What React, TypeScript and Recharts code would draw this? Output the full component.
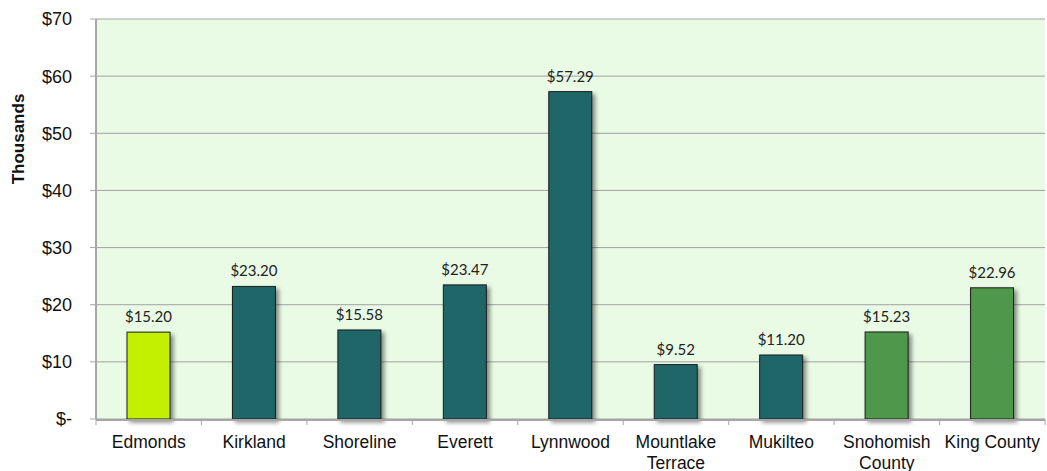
import React from 'react';
import { BarChart, Bar, XAxis, YAxis, CartesianGrid, Cell, LabelList, Label } from 'recharts';

const categories = ['Edmonds', 'Kirkland', 'Shoreline', 'Everett', 'Lynnwood', 'Mountlake\nTerrace', 'Mukilteo', 'Snohomish\nCounty', 'King County'];
const values = [15.2, 23.2, 15.58, 23.47, 57.29, 9.52, 11.2, 15.23, 22.96];
const colors = ['#C2F000', '#1E6667', '#1E6667', '#1E6667', '#1E6667', '#1E6667', '#1E6667', '#4F974A', '#4F974A'];
const yTicks = [0, 10, 20, 30, 40, 50, 60, 70];
const boundaryTicks = [0, 1, 2, 3, 4, 5, 6, 7, 8, 9];

const data = categories.map((c, i) => ({ name: c, value: values[i], idx: i + 0.5 }));

const CatTick = (props: any) => {
  const { x, y, payload } = props;
  const lines = String(payload.value).split('\n');
  return (
    <text x={x} y={y} textAnchor="middle" fill="#111" fontFamily="'Liberation Sans', Arial, sans-serif" fontSize={17.5}>
      {lines.map((l, i) => (
        <tspan key={i} x={x} dy={i === 0 ? 13 : 21}>{l}</tspan>
      ))}
    </text>
  );
};

const ShadowBar = (props: any) => {
  const { x, y, width, height, fill } = props;
  return (
    <rect x={x} y={y} width={width} height={height} fill={fill} stroke="#1b1b1b" strokeWidth={1}
      style={{ filter: 'drop-shadow(3px 3px 2px rgba(0,0,0,0.45))' }} />
  );
};

export default function App() {
  return (
    <div style={{ position: 'absolute', left: 0, top: 0, width: 1047, height: 471 }}>
      <BarChart width={1047} height={471} data={data} margin={{ top: 19, right: 2, bottom: 0, left: 0 }} barCategoryGap={0}>
        <CartesianGrid vertical={false} stroke="#A3A3A3" strokeWidth={1} fill="#E9FAE5" />
        <XAxis xAxisId="bnd" type="number" dataKey="idx" domain={[0, 9]} ticks={boundaryTicks} tick={() => <g />} tickLine={{ stroke: '#A6A6A6', strokeWidth: 1 }} axisLine={false} tickSize={6} height={1} />
        <XAxis dataKey="name" xAxisId="cat" tick={<CatTick />} tickLine={false} axisLine={{ stroke: '#A6A6A6', strokeWidth: 2 }} interval={0} tickSize={6} tickMargin={9} height={51} />
        <YAxis domain={[0, 70]} ticks={yTicks} width={96} tickSize={6} tickMargin={18}
          tickFormatter={(v: number) => (v === 0 ? '$-' : `$${v}`)}
          tick={{ fill: '#111', fontSize: 18, fontFamily: "'Liberation Sans', Arial, sans-serif" }}
          tickLine={{ stroke: '#A6A6A6' }} axisLine={{ stroke: '#A6A6A6', strokeWidth: 2 }}>
          <Label content={(p: any) => {
            const vb = p.viewBox || {};
            const cx = 18;
            const cy = (vb.y ?? 19) + 120;
            return (
              <text x={cx} y={cy} transform={`rotate(-90, ${cx}, ${cy})`} textAnchor="middle" dominantBaseline="central"
                fontFamily="'Liberation Sans', Arial, sans-serif" fontWeight="bold" fontSize={17} fill="#111">Thousands</text>
            );
          }} />
        </YAxis>
        <Bar dataKey="value" xAxisId="cat" barSize={43} isAnimationActive={false} shape={<ShadowBar />}>
          {data.map((d, i) => (
            <Cell key={i} fill={colors[i]} />
          ))}
          <LabelList dataKey="value" position="top" offset={10}
            formatter={(v: number) => `$${v.toFixed(2)}`}
            style={{ fontFamily: 'Lato, sans-serif', fontSize: 15, fill: '#222' }} />
        </Bar>
      </BarChart>
    </div>
  );
}
